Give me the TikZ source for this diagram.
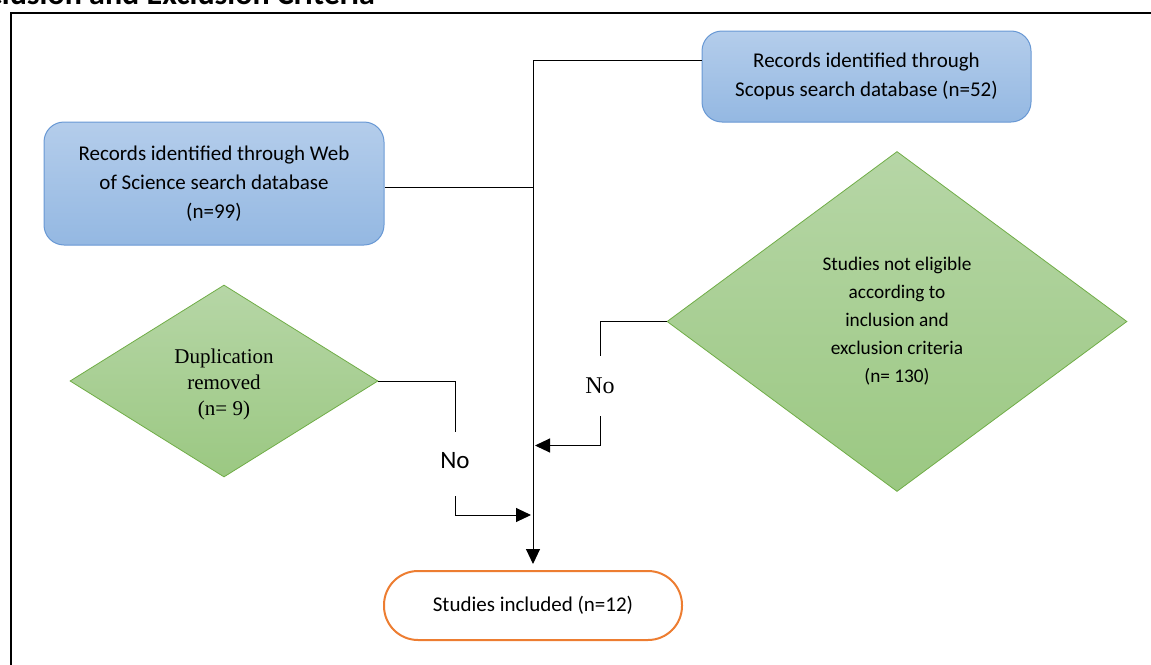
\documentclass[tikz,border=0pt]{standalone}
\usepackage{fontspec}
\setmainfont{Carlito}
\newfontfamily\tnr{Liberation Serif}
\usetikzlibrary{shapes.geometric,arrows.meta}
\definecolor{bluetop}{RGB}{180,205,235}
\definecolor{bluebot}{RGB}{148,184,226}
\definecolor{blueedge}{RGB}{104,152,212}
\definecolor{greentop}{RGB}{182,214,166}
\definecolor{greenbot}{RGB}{155,200,130}
\definecolor{greenedge}{RGB}{112,173,71}
\definecolor{orangeedge}{RGB}{237,125,49}
\tikzset{
  recbox/.style={draw=blueedge, line width=1pt, rounded corners=20pt, top color=bluetop, bottom color=bluebot, align=center, inner sep=0pt, font=\fontsize{21}{29}\selectfont},
  decbox/.style={diamond, draw=greenedge, line width=0.8pt, top color=greentop, bottom color=greenbot, align=center, inner sep=0pt},
  endbox/.style={draw=orangeedge, line width=2pt, rounded corners=34pt, fill=white, align=center, inner sep=0pt, font=\fontsize{21}{29}\selectfont},
  conn/.style={line width=1pt, black},
  arr/.style={conn, -{Triangle[length=15pt,width=14pt]}},
}
\begin{document}
\begin{tikzpicture}[x=1pt,y=-1pt]
\useasboundingbox (0,0) rectangle (1151,664);
\clip (0,0) rectangle (1151,664);
% heading (cut off at top) and frame
\node[anchor=base east, inner sep=0pt, font=\bfseries\fontsize{32}{32}\selectfont] (title) at (375,4) {Inclusion and Exclusion Criteria};
\draw[line width=2pt] (1180,13) -- (11,13) -- (11,700);
% nodes
\node[recbox, minimum width=340pt, minimum height=123pt] (wos) at (214,183.5) {Records identified through Web\\of Science search database\\(n=99)};
\node[recbox, minimum width=329pt, minimum height=91pt] (scopus) at (866.5,76.5) {Records identified through\\Scopus search database (n=52)};
\node[decbox, minimum width=308pt, minimum height=192pt] (dup) at (224,381) {};
\node[font=\tnr\fontsize{21}{26}\selectfont, align=center, inner sep=0pt] (duptext) at (224,384) {Duplication\\removed\\(n= 9)};
\node[decbox, minimum width=460pt, minimum height=340pt, font=\fontsize{19.3}{28}\selectfont] (elig) at (897,321.5) {Studies not eligible\\according to\\inclusion and\\exclusion criteria\\(n= 130)};
\node[endbox, minimum width=298pt, minimum height=69pt] (incl) at (533,605.5) {Studies included (n=12)};
\node[font=\fontsize{25}{25}\selectfont, inner sep=0pt] (nolft) at (455,461) {No};
\node[font=\tnr\fontsize{24}{24}\selectfont, inner sep=0pt] (norgt) at (600,386) {No};
% coordinates
\coordinate (top) at (533,60);
\coordinate (a1) at (455,432);
\coordinate (a2) at (455,496);
\coordinate (a3) at (531,515);
\coordinate (b1) at (600,356);
\coordinate (b2) at (600,416);
\coordinate (b3) at (535,445.5);
% connectors
\draw[conn] (scopus.west |- top) -- (top);
\draw[arr, shorten >=6pt] (top) -- (incl.north);
\draw[conn] ([yshift=-3.5pt]wos.east) -- ([yshift=-3.5pt]wos.east -| top);
\draw[conn] (dup.east) -| (a1);
\draw[arr] (a2) |- (a3);
\draw[conn] (elig.west) -| (b1);
\draw[arr] (b2) |- (b3);
\end{tikzpicture}
\end{document}
